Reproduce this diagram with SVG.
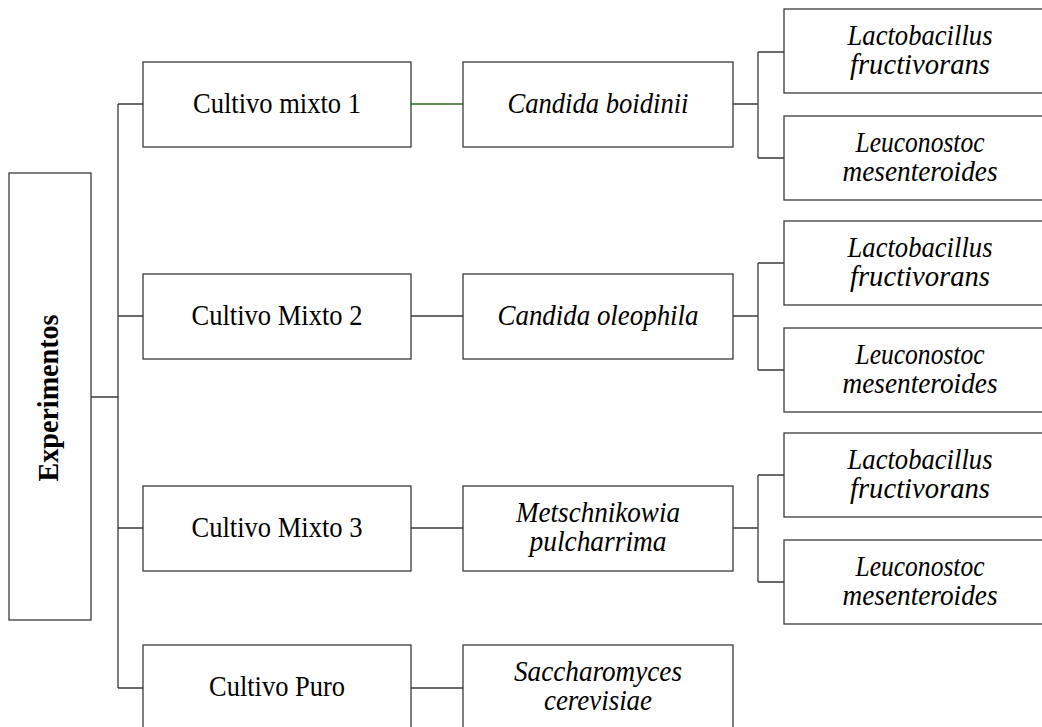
<svg xmlns="http://www.w3.org/2000/svg" width="1042" height="727" viewBox="0 0 1042 727">
<style>
.box{fill:#fff;stroke:#3a3a3a;stroke-width:1.3}
.ln{fill:none;stroke:#3a3a3a;stroke-width:1.3}
.gr{stroke:#2d6a12}
text{font-family:"Liberation Serif","Times New Roman",serif;font-size:29px;fill:#000;text-anchor:middle}
.it{font-style:italic}
.b{font-weight:bold}
</style>
<rect width="1042" height="727" fill="#fff"/>
<g id="connectors">
<path class="ln" d="M91,397H118M118,104V688M118,104H143M118,316H143M118,528H143M118,688H143"/>
<path class="ln gr" d="M411,104H463"/>
<path class="ln" d="M411,316H463M411,528H463M411,688H463"/>
<path class="ln" d="M733,104H758M758,52V158M758,52H784M758,158H784"/>
<path class="ln" d="M733,316H758M758,263V370M758,263H784M758,370H784"/>
<path class="ln" d="M733,528H758M758,475V582M758,475H784M758,582H784"/>
</g>
<g id="experimentos">
<rect class="box" x="9" y="173" width="82" height="447"/>
<text class="b" transform="translate(58,398) rotate(-90)" textLength="167" lengthAdjust="spacingAndGlyphs">Experimentos</text>
</g>
<g id="cultivo-mixto-1">
<rect class="box" x="143" y="62" width="268" height="85"/>
<text x="277" y="113" textLength="168" lengthAdjust="spacingAndGlyphs">Cultivo mixto 1</text>
</g>
<g id="cultivo-mixto-2">
<rect class="box" x="143" y="274" width="268" height="85"/>
<text x="277" y="325" textLength="171" lengthAdjust="spacingAndGlyphs">Cultivo Mixto 2</text>
</g>
<g id="cultivo-mixto-3">
<rect class="box" x="143" y="486" width="268" height="85"/>
<text x="277" y="537" textLength="171" lengthAdjust="spacingAndGlyphs">Cultivo Mixto 3</text>
</g>
<g id="cultivo-puro">
<rect class="box" x="143" y="645" width="268" height="90"/>
<text x="277" y="696" textLength="136" lengthAdjust="spacingAndGlyphs">Cultivo Puro</text>
</g>
<g id="candida-boidinii">
<rect class="box" x="463" y="62" width="270" height="85"/>
<text class="it" x="598" y="113" textLength="181" lengthAdjust="spacingAndGlyphs">Candida boidinii</text>
</g>
<g id="candida-oleophila">
<rect class="box" x="463" y="274" width="270" height="85"/>
<text class="it" x="598" y="325" textLength="201" lengthAdjust="spacingAndGlyphs">Candida oleophila</text>
</g>
<g id="metschnikowia">
<rect class="box" x="463" y="486" width="270" height="85"/>
<text class="it" x="598" y="522" textLength="164" lengthAdjust="spacingAndGlyphs">Metschnikowia</text>
<text class="it" x="598" y="551" textLength="137" lengthAdjust="spacingAndGlyphs">pulcharrima</text>
</g>
<g id="saccharomyces">
<rect class="box" x="463" y="645" width="270" height="90"/>
<text class="it" x="598" y="681" textLength="168" lengthAdjust="spacingAndGlyphs">Saccharomyces</text>
<text class="it" x="598" y="710" textLength="108" lengthAdjust="spacingAndGlyphs">cerevisiae</text>
</g>
<g id="lacto-1">
<rect class="box" x="784" y="9" width="272" height="84"/>
<text class="it" x="920" y="45" textLength="145" lengthAdjust="spacingAndGlyphs">Lactobacillus</text>
<text class="it" x="920" y="74" textLength="140" lengthAdjust="spacingAndGlyphs">fructivorans</text>
</g>
<g id="leuco-1">
<rect class="box" x="784" y="116" width="272" height="84"/>
<text class="it" x="920" y="152" textLength="129" lengthAdjust="spacingAndGlyphs">Leuconostoc</text>
<text class="it" x="920" y="181" textLength="155" lengthAdjust="spacingAndGlyphs">mesenteroides</text>
</g>
<g id="lacto-2">
<rect class="box" x="784" y="221" width="272" height="84"/>
<text class="it" x="920" y="257" textLength="145" lengthAdjust="spacingAndGlyphs">Lactobacillus</text>
<text class="it" x="920" y="286" textLength="140" lengthAdjust="spacingAndGlyphs">fructivorans</text>
</g>
<g id="leuco-2">
<rect class="box" x="784" y="328" width="272" height="84"/>
<text class="it" x="920" y="364" textLength="129" lengthAdjust="spacingAndGlyphs">Leuconostoc</text>
<text class="it" x="920" y="393" textLength="155" lengthAdjust="spacingAndGlyphs">mesenteroides</text>
</g>
<g id="lacto-3">
<rect class="box" x="784" y="433" width="272" height="84"/>
<text class="it" x="920" y="469" textLength="145" lengthAdjust="spacingAndGlyphs">Lactobacillus</text>
<text class="it" x="920" y="498" textLength="140" lengthAdjust="spacingAndGlyphs">fructivorans</text>
</g>
<g id="leuco-3">
<rect class="box" x="784" y="540" width="272" height="84"/>
<text class="it" x="920" y="576" textLength="129" lengthAdjust="spacingAndGlyphs">Leuconostoc</text>
<text class="it" x="920" y="605" textLength="155" lengthAdjust="spacingAndGlyphs">mesenteroides</text>
</g>
</svg>
